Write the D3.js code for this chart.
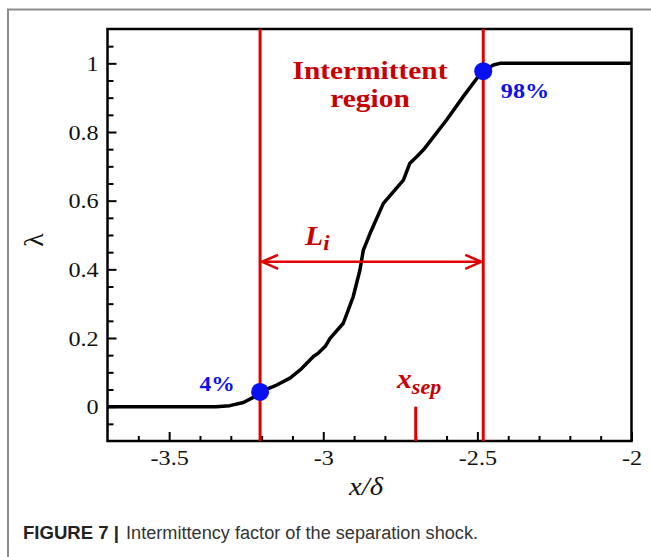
<!DOCTYPE html>
<html>
<head>
<meta charset="utf-8">
<script src="https://cdn.jsdelivr.net/npm/d3@7"></script>
<style>
  body { margin: 0; background: #fff; }
  svg { display: block; }
</style>
</head>
<body>
<svg width="651" height="557"></svg>
<script>
// intermittency curve (x/delta, lambda)
const curveX = [-3.7, -3.4, -3.348, -3.303, -3.259, -3.227, -3.205, -3.151, -3.108, -3.075,
  -3.032, -3.016, -2.994, -2.978, -2.935, -2.903, -2.881, -2.870, -2.848, -2.805,
  -2.740, -2.719, -2.697, -2.675, -2.600, -2.546, -2.502, -2.481, -2.448, -2.427, -2.0];
const curveY = [0, 0, 0, 0.003, 0.012, 0.027, 0.043, 0.063, 0.083, 0.107,
  0.146, 0.156, 0.175, 0.199, 0.243, 0.320, 0.398, 0.456, 0.505, 0.592,
  0.660, 0.709, 0.728, 0.748, 0.835, 0.903, 0.956, 0.977, 0.995, 1.0, 1.0];

// start / end of the intermittent region
const markX = [-3.205, -2.481];
const markY = [0.043, 0.977];
const markLabels = ['4%', '98%'];

const xSep = -2.70;
const arrowY = 0.422;

const xTicks = [-3.5, -3, -2.5, -2];
const xTickLabels = ['-3.5', '-3', '-2.5', '-2'];
const yTicks = [0, 0.2, 0.4, 0.6, 0.8, 1];
const yTickLabels = ['0', '0.2', '0.4', '0.6', '0.8', '1'];

const svg = d3.select('svg');
const serif = '"Liberation Serif", "Times New Roman", serif';
const red = '#e10000';
const darkRed = '#c80000';
const blue = '#0a10f0';

// the source image is a little stretched sideways, so text gets a x-scale
const label = (px, py, sx, txt, opts) => {
  const t = svg.append('text')
    .attr('transform', `translate(${px},${py}) scale(${sx},1)`)
    .attr('text-anchor', opts.anchor || 'middle')
    .attr('font-family', serif)
    .attr('font-size', opts.size)
    .attr('font-weight', opts.weight || 'normal')
    .attr('font-style', opts.style || 'normal')
    .attr('fill', opts.color);
  if (txt) t.text(txt);
  return t;
};

// outer gray frame (top + left only)
svg.append('path')
  .attr('d', 'M8,557 V9.5 H651')
  .attr('fill', 'none')
  .attr('stroke', '#8c8c8c')
  .attr('stroke-width', 2);

const pLeft = 107.5, pRight = 631.5, pTop = 29, pBottom = 441;

const x = d3.scaleLinear().domain([-3.7, -2]).range([pLeft, pRight]);
const y = d3.scaleLinear().domain([-0.1, 1.1]).range([pBottom, pTop]);

// minor ticks
const xMinor = d3.range(-3.6, -2.0, 0.1).map(v => +v.toFixed(2)).filter(v => !xTicks.includes(v));
const yMinor = d3.range(-0.05, 1.1, 0.05).map(v => +v.toFixed(2)).filter(v => !yTicks.includes(v));

const gx = svg.append('g').attr('transform', `translate(0,${pBottom})`);
gx.call(d3.axisBottom(x).tickValues(xTicks).tickSizeInner(-9).tickSizeOuter(0)
    .tickPadding(12).tickFormat((d, i) => xTickLabels[i]));
gx.append('g').call(d3.axisBottom(x).tickValues(xMinor).tickSizeInner(-5).tickSizeOuter(0).tickFormat(''));

const gy = svg.append('g').attr('transform', `translate(${pLeft},0)`);
gy.call(d3.axisLeft(y).tickValues(yTicks).tickSizeInner(-9).tickSizeOuter(0)
    .tickPadding(8).tickFormat((d, i) => yTickLabels[i]));
gy.append('g').call(d3.axisLeft(y).tickValues(yMinor).tickSizeInner(-6).tickSizeOuter(0).tickFormat(''));

svg.selectAll('.domain').remove();
svg.selectAll('.tick line').attr('stroke', '#000').attr('stroke-width', 2);
svg.selectAll('.tick text')
  .attr('font-family', serif)
  .attr('font-size', 22)
  .attr('transform', 'scale(1.1,1)')
  .attr('fill', '#111');
gx.selectAll('.tick text').attr('dy', '0.55em');

// plot frame
svg.append('rect')
  .attr('x', pLeft).attr('y', pTop)
  .attr('width', pRight - pLeft).attr('height', pBottom - pTop)
  .attr('fill', 'none')
  .attr('stroke', '#000')
  .attr('stroke-width', 2.5);

// red region boundaries
svg.selectAll('.bound')
  .data(markX)
  .join('line')
  .attr('class', 'bound')
  .attr('x1', d => x(d)).attr('x2', d => x(d))
  .attr('y1', pTop).attr('y2', pBottom)
  .attr('stroke', red)
  .attr('stroke-width', 3);

// x_sep marker
svg.append('line')
  .attr('x1', x(xSep)).attr('x2', x(xSep))
  .attr('y1', y(0)).attr('y2', pBottom)
  .attr('stroke', red)
  .attr('stroke-width', 3);

// curve
const line = d3.line().x((d, i) => x(curveX[i])).y(d => y(d));
svg.append('path')
  .datum(curveY)
  .attr('d', line)
  .attr('fill', 'none')
  .attr('stroke', '#000')
  .attr('stroke-width', 3.5)
  .attr('stroke-linejoin', 'round');

// L_i double arrow
const ay = y(arrowY), ax1 = x(markX[0]) + 2, ax2 = x(markX[1]) - 2;
svg.append('line')
  .attr('x1', ax1).attr('x2', ax2)
  .attr('y1', ay).attr('y2', ay)
  .attr('stroke', red).attr('stroke-width', 2.5);
svg.append('path')
  .attr('d', `M${ax1 + 16},${ay - 7} L${ax1},${ay} L${ax1 + 16},${ay + 7}` +
             `M${ax2 - 16},${ay - 7} L${ax2},${ay} L${ax2 - 16},${ay + 7}`)
  .attr('fill', 'none')
  .attr('stroke', red).attr('stroke-width', 2.5);

// blue markers
svg.selectAll('.mark')
  .data(markY)
  .join('circle')
  .attr('class', 'mark')
  .attr('cx', (d, i) => x(markX[i]))
  .attr('cy', d => y(d))
  .attr('r', 9)
  .attr('fill', blue);

label(217, 391, 1.12, markLabels[0], { size: 21, weight: 'bold', color: blue });
label(525, 98, 1.15, markLabels[1], { size: 21, weight: 'bold', color: blue });

// "Intermittent region"
label(370, 79, 1.13, 'Intermittent', { size: 26, weight: 'bold', color: darkRed });
label(370, 107, 1.13, 'region', { size: 26, weight: 'bold', color: darkRed });

// L_i
const li = label(305, 245, 1.1, null, { anchor: 'start', size: 27, weight: 'bold', style: 'italic', color: darkRed });
li.append('tspan').text('L');
li.append('tspan').attr('dy', 5).attr('font-size', 21).text('i');

// x_sep
const xs = label(397, 388, 1.1, null, { anchor: 'start', size: 27, weight: 'bold', style: 'italic', color: darkRed });
xs.append('tspan').text('x');
xs.append('tspan').attr('dy', 6).attr('font-size', 20).text('sep');

// axis titles
label(366, 495, 1.1, 'x/δ', { size: 26, style: 'italic', color: '#111' });

svg.append('text')
  .attr('transform', 'translate(43,240) rotate(-90)')
  .attr('text-anchor', 'middle')
  .attr('font-family', serif).attr('font-size', 28)
  .attr('fill', '#111')
  .text('λ');

// caption
svg.append('text')
  .attr('x', 23).attr('y', 539)
  .attr('font-family', '"Liberation Sans", Arial, sans-serif')
  .attr('font-weight', 'bold').attr('font-size', 18)
  .attr('textLength', 96).attr('lengthAdjust', 'spacingAndGlyphs')
  .attr('fill', '#222')
  .text('FIGURE 7 |');
svg.append('text')
  .attr('x', 126).attr('y', 539)
  .attr('font-family', '"Liberation Sans", Arial, sans-serif')
  .attr('font-size', 18)
  .attr('textLength', 352).attr('lengthAdjust', 'spacingAndGlyphs')
  .attr('fill', '#333')
  .text('Intermittency factor of the separation shock.');
</script>
</body>
</html>
